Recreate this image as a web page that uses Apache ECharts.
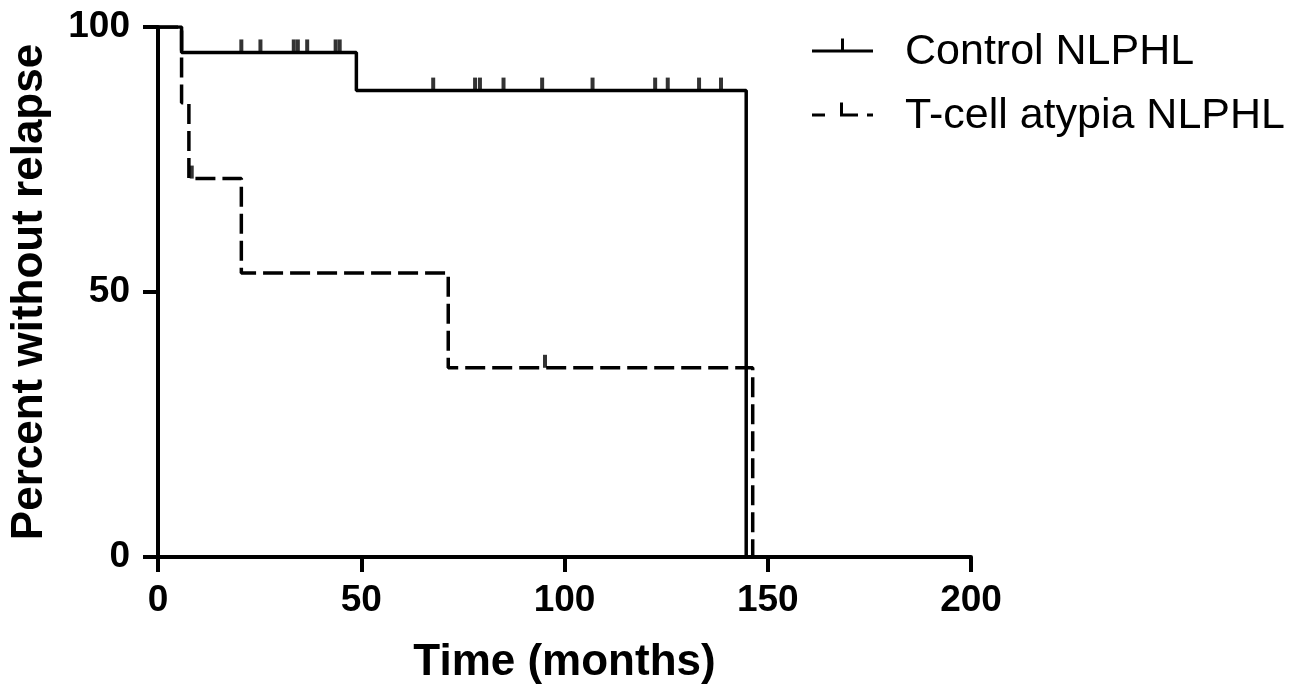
<!DOCTYPE html>
<html>
<head>
<meta charset="utf-8">
<script src="https://cdn.jsdelivr.net/npm/echarts@6/dist/echarts.min.js"></script>
<style>
html,body{margin:0;padding:0;background:#fff;}
#chart{width:1311px;height:686px;}
</style>
</head>
<body>
<div id="chart"></div>
<script>
// ---- data ----
var xTicks = [0, 50, 100, 150, 200];
var yTicks = [0, 50, 100];

var controlName = 'Control NLPHL';
var controlTimes = [0, 5.8, 48.8, 144.7];
var controlSurv  = [100, 95.2, 88.0, 0];
var controlCensorTimes = [20.5, 25.2, 33.4, 34.4, 36.7, 43.7, 44.7, 67.7, 78.0, 79.2, 85.0, 94.5, 106.9, 122.3, 125.4, 133.1, 138.5];
var controlCensorSurv  = [95.2, 95.2, 95.2, 95.2, 95.2, 95.2, 95.2, 88.0, 88.0, 88.0, 88.0, 88.0, 88.0, 88.0, 88.0, 88.0, 88.0];

var tcellName = 'T-cell atypia NLPHL';
var tcellTimes = [0, 5.8, 7.6, 20.5, 71.4, 146.3];
var tcellSurv  = [100, 85.7, 71.4, 53.6, 35.7, 0];
var tcellCensorTimes = [8.3, 95.2];
var tcellCensorSurv  = [71.4, 35.7];

function pairs(xs, ys) { return xs.map(function (x, i) { return [x, ys[i]]; }); }

var FONT = 'Liberation Sans';
var chart = echarts.init(document.getElementById('chart'), null, {renderer: 'canvas'});

var axisCommon = {
  axisLine: {show: true, onZero: false, lineStyle: {color: '#000', width: 4}},
  axisTick: {show: true, inside: false, length: 15, lineStyle: {color: '#000', width: 4}},
  splitLine: {show: false},
  nameLocation: 'middle',
  nameTextStyle: {fontFamily: FONT, fontSize: 44, fontWeight: 'bold', color: '#000'}
};

var censorSymbol = {symbol: 'rect', symbolSize: [4, 13], symbolOffset: [0, -6.5]};

chart.setOption({
  animation: false,
  backgroundColor: '#fff',
  grid: {left: 158, top: 27, right: 340, bottom: 129, containLabel: false, outerBoundsMode: 'none'},
  xAxis: Object.assign({}, axisCommon, {
    type: 'value', min: xTicks[0], max: xTicks[xTicks.length - 1], interval: xTicks[1] - xTicks[0],
    name: 'Time (months)', nameGap: 84,
    axisLabel: {margin: 25, fontFamily: FONT, fontSize: 37, fontWeight: 'bold', color: '#000'}
  }),
  yAxis: Object.assign({}, axisCommon, {
    type: 'value', min: yTicks[0], max: yTicks[yTicks.length - 1], interval: yTicks[1] - yTicks[0],
    name: 'Percent without relapse', nameGap: 106,
    axisLabel: {margin: 28, fontFamily: FONT, fontSize: 37, fontWeight: 'bold', color: '#000'}
  }),
  legend: {
    orient: 'vertical', left: 812, top: 31, padding: 0,
    itemWidth: 61, itemHeight: 14, itemGap: 21,
    selectedMode: false,
    itemStyle: {borderWidth: 0},
    formatter: function (name) { return '{t|' + name + '}'; },
    textStyle: {
      fontFamily: FONT, fontSize: 43, color: '#000',
      rich: {t: {fontFamily: FONT, fontSize: 43, color: '#000', padding: [14, 0, 0, 27]}}
    },
    data: [
      {name: controlName, icon: 'path://M0,11H61V14H0Z M29,0H32V11H29Z'},
      {name: tcellName, icon: 'path://M0,11H13V14H0Z M28,0H31V11H46V14H28Z M55,11H61V14H55Z'}
    ]
  },
  series: [
    {
      name: controlName, type: 'line', step: 'end', symbol: 'none',
      data: pairs(controlTimes, controlSurv),
      itemStyle: {color: '#000'},
      lineStyle: {color: '#000', width: 3.5, type: 'solid'},
      emphasis: {disabled: true}, z: 3
    },
    {
      name: tcellName, type: 'line', step: 'end', symbol: 'none',
      data: pairs(tcellTimes, tcellSurv),
      itemStyle: {color: '#000'},
      lineStyle: {color: '#000', width: 3.5, type: [20, 7]},
      emphasis: {disabled: true}, z: 2
    },
    Object.assign({
      name: controlName + ' censored', type: 'scatter',
      data: pairs(controlCensorTimes, controlCensorSurv),
      itemStyle: {color: '#000'}, emphasis: {disabled: true}, z: 4
    }, censorSymbol),
    Object.assign({
      name: tcellName + ' censored', type: 'scatter',
      data: pairs(tcellCensorTimes, tcellCensorSurv),
      itemStyle: {color: '#000'}, emphasis: {disabled: true}, z: 4
    }, censorSymbol)
  ]
});
</script>
</body>
</html>
